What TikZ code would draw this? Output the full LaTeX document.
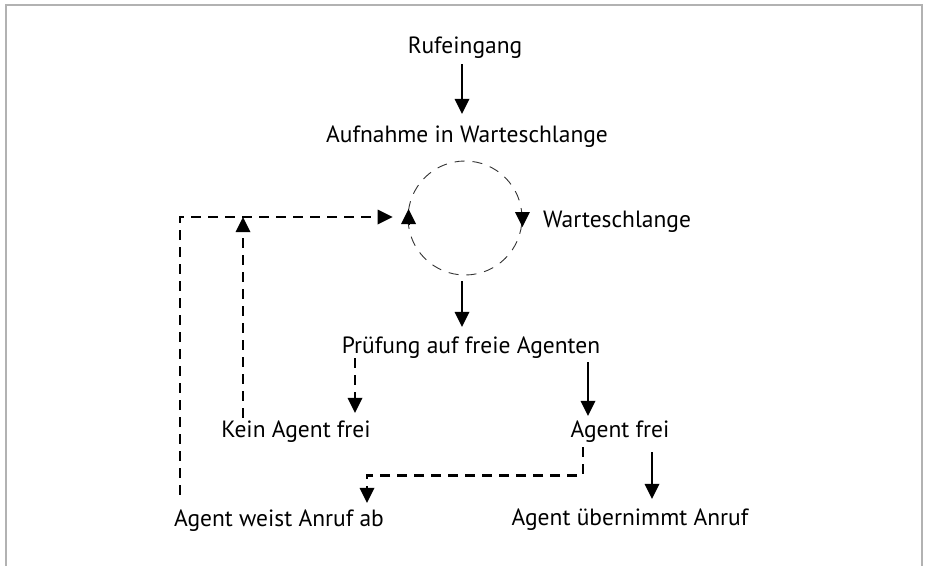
\documentclass[tikz,border=0pt]{standalone}
\usepackage{fontspec}
\setmainfont{PT Sans}
\usetikzlibrary{arrows.meta,calc}
\begin{document}
\begin{tikzpicture}[x=1pt,y=-1pt,
  lbl/.style={inner sep=0pt, anchor=base, text height=18pt, text depth=5pt, font=\fontsize{23.5}{28}\selectfont},
  arr/.style={line width=1.8pt, -{Triangle[width=15pt,length=15pt,line width=0pt]}},
  darr/.style={line width=2.6pt, dash pattern=on 10pt off 7pt, -{Triangle[width=15pt,length=15pt,line width=0pt]}},
  tip/.style={-{Triangle[width=15pt,length=15pt,line width=0pt]}, line width=0.1pt},
  frame/.style={draw=black!30, line width=2pt}
]
\useasboundingbox (0,0) rectangle (925,566);
\draw[frame] (5.5,566) -- (5.5,5) -- (921.5,5) -- (921.5,566);

\node[lbl] (ruf) at (465,53) {Rufeingang};
\node[lbl] (auf) at (467,142) {Aufnahme in Warteschlange};
\node[circle, draw=black!80, line width=0.9pt, dash pattern=on 10pt off 8pt, minimum size=114pt, inner sep=0pt] (q) at (465,218) {};
\node[lbl, anchor=base west] (wl) at (543,227) {Warteschlange};
\node[lbl] (pruef) at (471,353) {Prüfung auf freie Agenten};
\node[lbl] (kein) at (296,437) {Kein Agent frei};
\node[lbl] (afrei) at (620,437) {Agent frei};
\node[lbl] (weist) at (279,526) {Agent weist Anruf ab};
\node[lbl] (ueber) at (630,525) {Agent übernimmt Anruf};

% main flow
\draw[arr] ($(ruf.south)+(-3,6)$) -- ($(ruf.south |- auf.north)+(-3,-10)$);
\draw[arr] ($(q.south)+(-3,6)$) -- ($(q.south |- pruef.north)+(-3,-8)$);

% queue arrowheads
\draw[tip] ($(q.west)+(1,7)$) -- ($(q.west)+(1,-9)$);
\draw[tip] ($(q.east)+(0,-6)$) -- ($(q.east)+(0,9)$);

% decisions
\draw[darr] ($(pruef.south)+(-116,0)$) -- ($(pruef.south |- kein.north)+(-116,-6)$);
\draw[arr] ($(pruef.south)+(117,4)$) -- ($(pruef.south |- afrei.north)+(117,-3)$);
\draw[arr] ($(afrei.south)+(32,10)$) -- ($(afrei.south |- ueber.north)+(32,-8)$);
\draw[darr] ($(afrei.south)+(-37,5)$) -- ++(0,28) -| ($(weist.north)+(88,-5)$);

% back to queue
\draw[darr] ($(weist.north)+(-99,-13)$) |- ($(q.west)+(-15,-1)$);
\draw[darr] ($(kein.north)+(-53,-1)$) -- ($(kein.north |- q.west)+(-53,-1)$);
\end{tikzpicture}
\end{document}
